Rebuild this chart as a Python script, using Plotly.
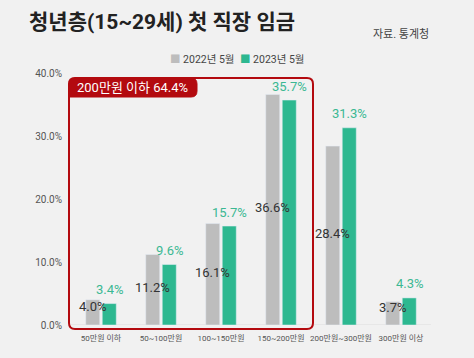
import plotly.graph_objects as go

categories = ["50만원 이하", "50~100만원", "100~150만원", "150~200만원", "200만원~300만원", "300만원 이상"]
values_2022 = [4.0, 11.2, 16.1, 36.6, 28.4, 3.7]
values_2023 = [3.4, 9.6, 15.7, 35.7, 31.3, 4.3]
series_names = ["2022년 5월", "2023년 5월"]
y_ticks = [0, 10, 20, 30, 40]
y_tick_labels = ["0.0%", "10.0%", "20.0%", "30.0%", "40.0%"]
box_label = "200만원 이하 64.4%"

GRAY = "#bdbdbd"
GREEN = "#2db890"
GREEN_TXT = "#3bb893"
RED = "#b30a0f"
FONT = "Roboto, 'Noto Sans CJK KR', sans-serif"

W, H = 474, 358
ml, mr, mt, mb = 71, 43, 73, 33
pw, ph = W - ml - mr, H - mt - mb

def px(x):
    return (x - ml) / pw

def py(y):
    return (H - mb - y) / ph

fig = go.Figure()
fig.add_trace(go.Bar(x=categories, y=values_2022, name=series_names[0], marker_color=GRAY))
fig.add_trace(go.Bar(x=categories, y=values_2023, name=series_names[1], marker_color=GREEN))

annotations = []
for c, v in zip(categories, values_2022):
    annotations.append(dict(x=c, y=v / 2, xref="x", yref="y", text=f"{v:.1f}%", showarrow=False,
                            xshift=-8.5, yshift=2 if v > 6 else 6,
                            font=dict(family=FONT, size=13, color="#333333")))
for c, v in zip(categories, values_2023):
    annotations.append(dict(x=c, y=v, xref="x", yref="y", text=f"{v:.1f}%", showarrow=False,
                            xshift=8.5, yshift=14,
                            font=dict(family=FONT, size=13, color=GREEN_TXT)))

annotations.append(dict(x=px(27), y=py(22), xref="paper", yref="paper", xanchor="left", yanchor="middle",
                        text="<b>청년층(15~29세) 첫 직장 임금</b>", showarrow=False,
                        font=dict(family=FONT, size=21, color="#222222")))
annotations.append(dict(x=px(431), y=py(34), xref="paper", yref="paper", xanchor="right", yanchor="middle",
                        text="자료. 통계청", showarrow=False,
                        font=dict(family=FONT, size=11, color="#444444")))
annotations.append(dict(x=px(132), y=py(87.5), xref="paper", yref="paper", xanchor="center", yanchor="middle",
                        text=box_label, showarrow=False,
                        font=dict(family=FONT, size=13, color="white")))
# legend drawn as text
annotations.append(dict(x=px(168), y=py(60), xref="paper", yref="paper", xanchor="left", yanchor="middle",
                        text=f"<span style='color:{GRAY}'>■</span> {series_names[0]}", showarrow=False,
                        font=dict(family=FONT, size=10.5, color="#444444")))
annotations.append(dict(x=px(238), y=py(60), xref="paper", yref="paper", xanchor="left", yanchor="middle",
                        text=f"<span style='color:{GREEN}'>■</span> {series_names[1]}", showarrow=False,
                        font=dict(family=FONT, size=10.5, color="#444444")))

x0, x1 = px(69), px(313)
y0, y1 = py(329), py(78)
r = 6
rx, ry = r / pw, r / ph
box_path = (f"M {x0+rx},{y1} L {x1-rx},{y1} Q {x1},{y1} {x1},{y1-ry} L {x1},{y0+ry} Q {x1},{y0} {x1-rx},{y0} "
            f"L {x0+rx},{y0} Q {x0},{y0} {x0},{y0+ry} L {x0},{y1-ry} Q {x0},{y1} {x0+rx},{y1} Z")
tx1, ty0 = px(197), py(97)
tab_path = (f"M {x0+rx},{y1} L {tx1-rx},{y1} Q {tx1},{y1} {tx1},{y1-ry} L {tx1},{ty0+ry} Q {tx1},{ty0} {tx1-rx},{ty0} "
            f"L {x0},{ty0} L {x0},{y1-ry} Q {x0},{y1} {x0+rx},{y1} Z")
shapes = [
    dict(type="line", xref="paper", yref="y", x0=0, x1=1, y0=0, y1=0, line=dict(color="#dddddd", width=1), layer="below"),
    dict(type="path", xref="paper", yref="paper", path=box_path, line=dict(color=RED, width=2), fillcolor="rgba(0,0,0,0)"),
    dict(type="path", xref="paper", yref="paper", path=tab_path, line=dict(color=RED, width=1), fillcolor=RED),
]

fig.update_layout(
    width=W, height=H,
    margin=dict(l=ml, r=mr, t=mt, b=mb, autoexpand=False),
    paper_bgcolor="#f1f1f1", plot_bgcolor="#f1f1f1",
    barmode="group", bargap=0.45, bargroupgap=0.15,
    font=dict(family=FONT, color="#555555"),
    showlegend=False,
    xaxis=dict(showgrid=False, showline=False, zeroline=False, ticks="", tickangle=0, automargin=False,
               tickfont=dict(family=FONT, size=8, color="#555555"), range=[-0.5, 5.5], ticklabelstandoff=7),
    yaxis=dict(range=[0, 40], tickvals=y_ticks, ticktext=y_tick_labels, showgrid=False, zeroline=False,
               showline=False, ticks="", automargin=False,
               tickfont=dict(family=FONT, size=10, color="#555555"), ticklabelstandoff=8),
    annotations=annotations,
    shapes=shapes,
)

fig.write_html("out.html", config={"displayModeBar": False},
               post_script="document.body.style.margin='0';document.body.style.overflow='hidden';")
